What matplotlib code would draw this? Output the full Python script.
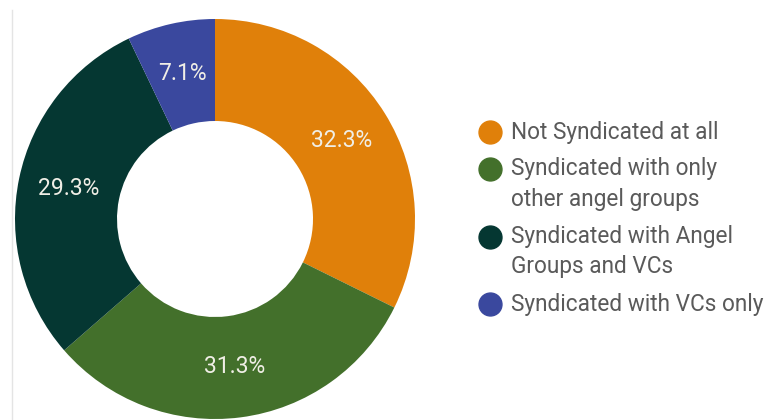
import matplotlib.pyplot as plt
from matplotlib.lines import Line2D

labels = ['Not Syndicated at all',
          'Syndicated with only\nother angel groups',
          'Syndicated with Angel\nGroups and VCs',
          'Syndicated with VCs only']
shares = [32.3, 31.3, 29.3, 7.1]
colors = ['#E0800A', '#43702B', '#053732', '#3A489E']

plt.rcParams['font.family'] = ['Roboto', 'DejaVu Sans']

W, H = 769, 420
fig = plt.figure(figsize=(W / 100, H / 100), dpi=100)
ax = fig.add_axes([15 / W, 1 / H, 400 / W, 400 / H])

wedges, texts, autotexts = ax.pie(
    shares, colors=colors, startangle=90, counterclock=False,
    radius=1.0, wedgeprops=dict(width=0.51, edgecolor='none'),
    autopct='%.1f%%', pctdistance=0.745,
    textprops=dict(color='#F0EEE6', fontsize=16.5))
ax.set_xlim(-1, 1)
ax.set_ylim(-1, 1)
ax.set_aspect('equal')

# faint border line on the left edge
fig.add_artist(Line2D([12 / W, 12 / W], [0, 410 / H],
                      color='#E4E4E4', lw=1))

# legend: marker sits on the first line of each entry
line_h = 30.5
gap = 6.5
y = 132
for lab, c in zip(labels, colors):
    fy = 1 - y / H
    fig.add_artist(Line2D([490 / W], [fy], marker='o', ls='none',
                          markersize=16.5, markerfacecolor=c,
                          markeredgecolor=c, transform=fig.transFigure))
    fig.text(511 / W, fy, lab, fontsize=16.3, color='#5A5A5A',
             va='top', ha='left', linespacing=1.4,
             transform=fig.transFigure).set_y(fy + 11.5 / H)
    y += line_h * (lab.count('\n') + 1) + gap

fig.savefig('out.png', dpi=100)
